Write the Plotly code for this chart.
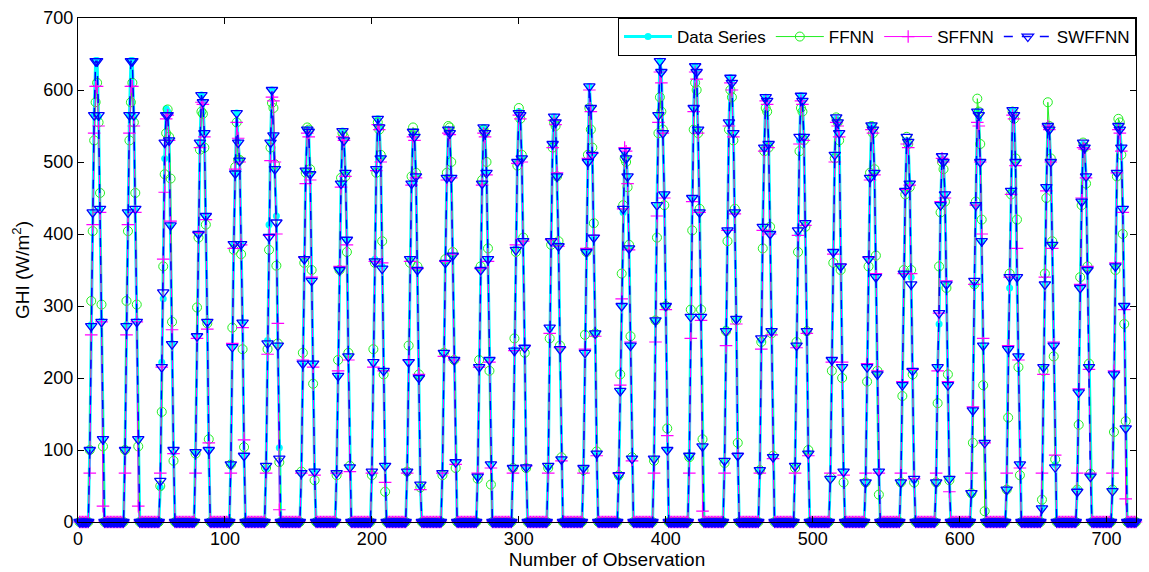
import numpy as np
import plotly.graph_objects as go

# ---- data: 30 days x 24 hourly observations; daylight values (hours 8..17) per day ----
N_OBS = 720
HOURS_PER_DAY = 24
DAYLIGHT_FIRST_HOUR = 7  # 0-based index within day of first daylight value

actual_daylight = [
    [101, 274, 430, 565, 641, 641, 563, 434, 279, 115],
    [101, 274, 430, 565, 641, 641, 563, 434, 279, 115],
    [48, 222, 310, 505, 574, 570, 530, 412, 248, 97],
    [97, 258, 400, 527, 593, 583, 540, 425, 278, 100],
    [80, 243, 386, 484, 568, 527, 502, 386, 277, 92],
    [75, 252, 413, 527, 600, 537, 490, 425, 245, 103],
    [68, 220, 365, 488, 545, 540, 483, 335, 220, 70],
    [68, 203, 350, 470, 543, 530, 485, 392, 230, 76],
    [68, 220, 365, 490, 560, 550, 505, 355, 210, 78],
    [70, 222, 365, 470, 540, 535, 480, 350, 200, 50],
    [68, 235, 360, 478, 545, 540, 478, 370, 225, 83],
    [63, 215, 350, 470, 548, 540, 485, 365, 225, 80],
    [75, 240, 380, 500, 570, 565, 505, 390, 242, 76],
    [76, 268, 390, 525, 563, 555, 480, 385, 240, 87],
    [75, 235, 375, 500, 605, 575, 510, 395, 262, 95],
    [62, 182, 300, 430, 510, 505, 480, 380, 245, 88],
    [88, 280, 440, 565, 640, 625, 540, 455, 300, 100],
    [90, 285, 450, 575, 633, 625, 545, 430, 285, 105],
    [85, 268, 405, 555, 617, 610, 540, 430, 282, 92],
    [72, 252, 410, 520, 590, 585, 525, 402, 265, 90],
    [78, 245, 400, 530, 592, 585, 535, 415, 265, 95],
    [60, 225, 375, 510, 560, 555, 540, 355, 215, 70],
    [55, 215, 365, 478, 551, 545, 485, 340, 205, 70],
    [55, 190, 345, 460, 530, 525, 470, 340, 210, 58],
    [55, 215, 275, 440, 505, 500, 455, 330, 190, 60],
    [38, 155, 330, 440, 570, 560, 500, 390, 245, 110],
    [45, 240, 325, 460, 572, 565, 500, 340, 230, 80],
    [20, 215, 330, 465, 550, 545, 500, 385, 245, 80],
    [45, 180, 325, 445, 525, 520, 480, 350, 215, 65],
    [45, 205, 355, 485, 550, 545, 520, 435, 300, 130],
]

ffnn_daylight = [
    [100, 307, 404, 530, 583, 610, 555, 457, 302, 105],
    [100, 307, 404, 530, 583, 610, 555, 457, 302, 105],
    [50, 153, 355, 483, 540, 573, 535, 477, 278, 85],
    [95, 298, 395, 517, 570, 567, 520, 413, 276, 115],
    [80, 270, 378, 493, 555, 503, 503, 372, 240, 104],
    [75, 240, 378, 520, 582, 575, 497, 356, 248, 83],
    [70, 235, 360, 485, 548, 545, 490, 350, 192, 58],
    [65, 225, 350, 478, 540, 535, 480, 375, 235, 78],
    [65, 240, 360, 485, 555, 545, 510, 390, 205, 42],
    [70, 245, 360, 480, 548, 540, 485, 355, 205, 48],
    [65, 235, 365, 485, 550, 548, 500, 375, 225, 75],
    [60, 225, 355, 475, 545, 540, 500, 380, 210, 52],
    [75, 255, 375, 495, 575, 560, 510, 395, 235, 75],
    [75, 255, 385, 520, 555, 550, 480, 390, 245, 90],
    [72, 260, 375, 510, 575, 545, 520, 415, 262, 98],
    [65, 205, 345, 440, 505, 500, 465, 385, 258, 90],
    [85, 280, 395, 540, 590, 570, 545, 440, 300, 130],
    [90, 295, 405, 545, 610, 600, 540, 435, 295, 115],
    [82, 265, 390, 545, 600, 590, 530, 435, 280, 110],
    [72, 250, 380, 515, 575, 570, 520, 410, 262, 92],
    [75, 250, 375, 515, 575, 570, 530, 410, 265, 100],
    [62, 210, 360, 505, 562, 555, 530, 350, 200, 55],
    [55, 195, 355, 485, 550, 540, 490, 370, 210, 38],
    [55, 175, 350, 455, 535, 525, 465, 350, 205, 55],
    [55, 165, 355, 430, 500, 490, 445, 325, 205, 58],
    [40, 110, 330, 445, 588, 570, 525, 420, 190, 15],
    [45, 145, 345, 455, 570, 560, 505, 420, 215, 65],
    [31, 210, 345, 450, 583, 550, 505, 390, 230, 87],
    [45, 135, 340, 440, 527, 520, 470, 355, 220, 67],
    [45, 125, 350, 480, 560, 555, 510, 400, 275, 140],
]

sffnn_daylight = [
    [68, 260, 413, 540, 605, 605, 550, 430, 278, 22],
    [68, 260, 413, 540, 605, 605, 550, 430, 278, 22],
    [68, 215, 365, 458, 560, 565, 530, 418, 267, 95],
    [68, 255, 402, 520, 583, 580, 535, 420, 268, 110],
    [68, 248, 380, 490, 555, 533, 500, 385, 270, 114],
    [68, 233, 398, 502, 590, 585, 500, 400, 276, 17],
    [68, 225, 368, 470, 540, 535, 475, 340, 215, 65],
    [68, 210, 355, 465, 535, 530, 480, 385, 225, 70],
    [68, 215, 362, 488, 552, 545, 500, 360, 210, 55],
    [68, 225, 362, 468, 535, 530, 478, 352, 205, 45],
    [68, 230, 362, 475, 540, 538, 478, 372, 225, 80],
    [68, 215, 352, 468, 540, 535, 482, 362, 222, 75],
    [68, 238, 385, 498, 565, 560, 500, 390, 245, 78],
    [68, 262, 392, 520, 558, 552, 485, 383, 242, 85],
    [68, 240, 380, 505, 600, 570, 512, 398, 258, 92],
    [68, 190, 310, 435, 520, 515, 470, 378, 250, 85],
    [68, 250, 425, 555, 625, 610, 540, 450, 295, 120],
    [68, 255, 445, 570, 625, 615, 540, 430, 280, 15],
    [68, 245, 405, 550, 610, 600, 535, 428, 275, 95],
    [68, 240, 405, 515, 585, 580, 520, 400, 260, 88],
    [68, 242, 398, 525, 585, 580, 530, 412, 262, 92],
    [68, 222, 372, 500, 555, 550, 535, 358, 222, 65],
    [68, 220, 368, 475, 545, 540, 482, 345, 210, 68],
    [68, 195, 345, 462, 525, 520, 468, 345, 212, 60],
    [68, 210, 290, 445, 505, 500, 450, 335, 195, 42],
    [68, 160, 330, 440, 555, 550, 500, 400, 255, 110],
    [68, 245, 340, 455, 565, 560, 495, 380, 225, 75],
    [68, 205, 340, 460, 550, 545, 500, 380, 250, 93],
    [68, 185, 330, 450, 520, 518, 478, 355, 212, 68],
    [68, 210, 360, 485, 545, 540, 515, 430, 295, 32],
]

swffnn_daylight = [
    [100, 272, 430, 565, 640, 640, 565, 435, 278, 115],
    [100, 272, 430, 565, 640, 640, 565, 435, 278, 115],
    [57, 215, 319, 527, 565, 565, 530, 412, 247, 100],
    [97, 258, 400, 527, 593, 583, 540, 425, 278, 100],
    [80, 243, 386, 484, 568, 527, 502, 386, 277, 92],
    [78, 248, 396, 527, 600, 537, 490, 416, 245, 88],
    [68, 220, 365, 488, 545, 542, 483, 335, 220, 70],
    [68, 203, 350, 470, 543, 530, 485, 392, 230, 76],
    [70, 222, 362, 490, 560, 548, 505, 352, 210, 78],
    [70, 222, 365, 470, 542, 535, 480, 350, 200, 52],
    [68, 235, 360, 478, 545, 540, 478, 370, 225, 83],
    [63, 215, 350, 470, 548, 540, 485, 365, 225, 80],
    [75, 238, 378, 500, 568, 565, 505, 390, 242, 76],
    [78, 270, 390, 525, 563, 555, 480, 383, 240, 87],
    [75, 235, 375, 500, 605, 575, 510, 395, 262, 95],
    [65, 182, 300, 435, 515, 505, 480, 380, 245, 88],
    [88, 280, 440, 565, 640, 625, 540, 455, 300, 100],
    [92, 285, 450, 575, 633, 625, 545, 430, 285, 105],
    [85, 265, 405, 555, 617, 610, 540, 430, 282, 92],
    [72, 255, 410, 520, 590, 585, 525, 400, 265, 90],
    [78, 245, 405, 535, 592, 585, 535, 415, 265, 95],
    [60, 225, 375, 510, 562, 555, 540, 355, 215, 70],
    [55, 215, 365, 478, 551, 545, 485, 340, 205, 70],
    [55, 190, 345, 460, 535, 528, 470, 330, 210, 60],
    [55, 215, 290, 440, 508, 500, 455, 330, 190, 60],
    [40, 155, 335, 440, 570, 565, 500, 390, 245, 110],
    [45, 240, 340, 460, 572, 565, 500, 340, 230, 80],
    [19, 215, 330, 465, 550, 545, 500, 385, 245, 76],
    [42, 180, 325, 445, 527, 520, 480, 350, 215, 63],
    [43, 205, 355, 485, 550, 545, 520, 435, 300, 130],
]

x_ticks = [0, 100, 200, 300, 400, 500, 600, 700]
y_ticks = [0, 100, 200, 300, 400, 500, 600, 700]


def to_series(daylight):
    """Place each day's daylight readings into a 24-hour frame (night readings are 0)."""
    out = np.zeros(N_OBS)
    for d, vals in enumerate(daylight):
        start = d * HOURS_PER_DAY + DAYLIGHT_FIRST_HOUR
        out[start:start + len(vals)] = vals
    return out


x = np.arange(1, N_OBS + 1)
actual = to_series(actual_daylight)
ffnn = to_series(ffnn_daylight)
sffnn = to_series(sffnn_daylight)
swffnn = to_series(swffnn_daylight)

FONT = "Liberation Sans, Arial, Helvetica, sans-serif"

fig = go.Figure()
fig.add_trace(go.Scatter(
    x=x, y=actual, name="Data Series", mode="lines+markers",
    line=dict(color="#00FFFF", width=3),
    marker=dict(symbol="circle", size=7, color="#00FFFF"),
    cliponaxis=False,
))
fig.add_trace(go.Scatter(
    x=x, y=ffnn, name="FFNN", mode="lines+markers",
    line=dict(color="#22EE22", width=1),
    marker=dict(symbol="circle-open", size=9, color="#22EE22", line=dict(width=1)),
    cliponaxis=False,
))
fig.add_trace(go.Scatter(
    x=x, y=sffnn, name="SFFNN", mode="lines+markers",
    line=dict(color="#FF00FF", width=1),
    marker=dict(symbol="cross-thin-open", size=9, color="#FF00FF",
                line=dict(width=1.2, color="#FF00FF")),
    cliponaxis=False,
))
fig.add_trace(go.Scatter(
    x=x, y=swffnn, name="SWFFNN", mode="lines+markers",
    line=dict(color="#0000FF", width=1.5, dash="dash"),
    marker=dict(symbol="triangle-down-open", size=10, color="#0000FF", line=dict(width=1.3)),
    cliponaxis=False,
))

axis_common = dict(
    showgrid=False, zeroline=False, showline=True, linecolor="black", linewidth=1,
    mirror="ticks", ticks="inside", ticklen=6, tickcolor="black", automargin=False,
    tickfont=dict(family=FONT, size=18, color="black"),
)

fig.update_layout(
    width=1149, height=572,
    margin=dict(l=78, r=13, t=18, b=50),
    paper_bgcolor="white", plot_bgcolor="white",
    font=dict(family=FONT, color="black"),
    showlegend=True,
    legend=dict(
        orientation="h", x=1, xanchor="right", y=1, yanchor="top",
        bgcolor="white", bordercolor="black", borderwidth=1,
        font=dict(family=FONT, size=17, color="black"),
        itemwidth=48, tracegroupgap=0,
    ),
    xaxis=dict(range=[0, 720], tickvals=x_ticks,
               title=dict(text="Number of Observation", font=dict(family=FONT, size=19), standoff=2),
               **axis_common),
    yaxis=dict(range=[0, 700], tickvals=y_ticks,
               title=dict(text="GHI (W/m<sup>2</sup>)", font=dict(family=FONT, size=19), standoff=8),
               **axis_common),
)

fig.write_html("out.html")
